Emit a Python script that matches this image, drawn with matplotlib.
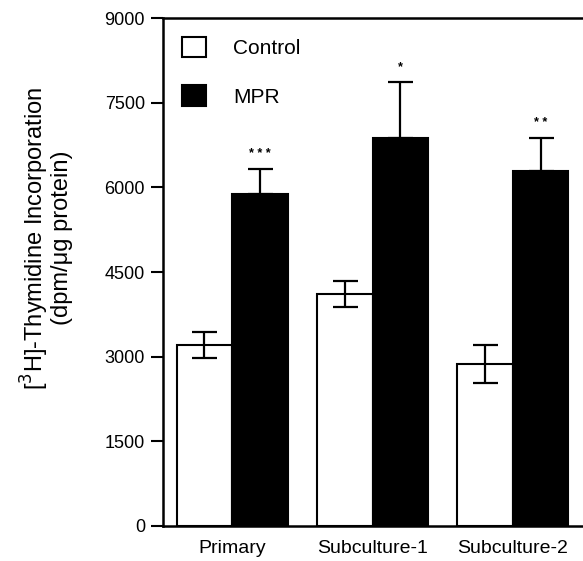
import matplotlib
matplotlib.use("Agg")
from matplotlib import pyplot as plt
from matplotlib.patches import Patch
import numpy as np

plt.rcParams['font.family'] = ['Liberation Sans', 'DejaVu Sans']

groups = ['Primary', 'Subculture-1', 'Subculture-2']
control_mean = [3210, 4110, 2870]
control_err = [230, 230, 340]
mpr_mean = [5880, 6875, 6290]
mpr_err = [440, 990, 585]
stars = ['* * *', '*', '* *']

fig = plt.figure(figsize=(5.83, 5.61), dpi=100, facecolor='white')
ax = fig.add_axes([0.2796, 0.0624, 0.7204, 0.9055])

x = np.arange(len(groups))
w = 0.395
ax.bar(x - w/2, control_mean, w, color='white', edgecolor='black', linewidth=1.5, zorder=2)
ax.bar(x + w/2, mpr_mean, w, color='black', edgecolor='black', linewidth=1.5, zorder=2)
ax.errorbar(x - w/2, control_mean, yerr=control_err, fmt='none', ecolor='black',
            elinewidth=1.6, capsize=9, capthick=1.6, zorder=3)
ax.errorbar(x + w/2, mpr_mean, yerr=[np.zeros(3), mpr_err], fmt='none', ecolor='black',
            elinewidth=1.6, capsize=9, capthick=1.6, zorder=1)

for xi, m, e, s in zip(x, mpr_mean, mpr_err, stars):
    ax.text(xi + w/2, m + e + 160, s, ha='center', va='bottom', fontsize=9,
            fontweight='bold')

ax.set_xlim(-0.493, 2.5)
ax.set_ylim(0, 9000)
ax.set_yticks(np.arange(0, 9001, 1500))
ax.set_xticks(x)
ax.set_xticklabels(groups)
ax.tick_params(axis='y', direction='out', length=9, width=1.5, labelsize=13, pad=4)
ax.tick_params(axis='x', length=0, labelsize=14, pad=10)
for side in ['left', 'bottom', 'top']:
    ax.spines[side].set_linewidth(1.8)
ax.spines['right'].set_visible(False)

ax.set_ylabel('[$^{3}$H]-Thymidine Incorporation\n(dpm/\u03bcg protein)', fontsize=17,
              linespacing=1.0)
ax.yaxis.set_label_coords(-0.215, 0.567)

handles = [Patch(facecolor='white', edgecolor='black', linewidth=1.5, label='Control'),
           Patch(facecolor='black', edgecolor='black', linewidth=1.5, label='MPR')]
ax.legend(handles=handles, loc='upper left', frameon=False, fontsize=15,
          handlelength=1.15, handleheight=1.15, handletextpad=1.3, labelspacing=1.3,
          bbox_to_anchor=(0.0, 1.0))

plt.savefig('out.png', dpi=100)
